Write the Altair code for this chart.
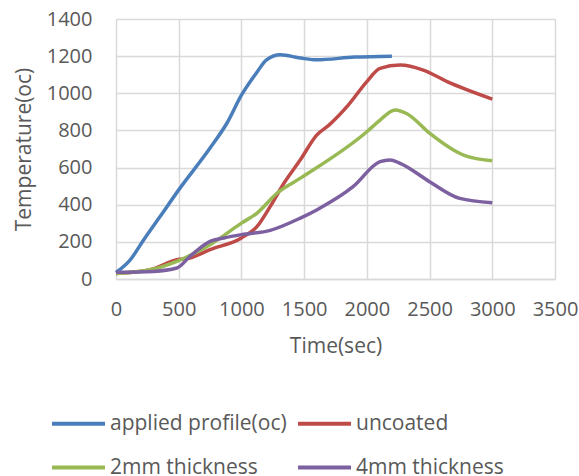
import altair as alt
import pandas as pd

series_names = ["applied profile(oc)", "uncoated", "2mm thickness", "4mm thickness"]
colors = ["#4A7EBB", "#BE4B48", "#98B954", "#7D60A0"]

applied_t = [0, 110, 220, 350, 500, 750, 885, 1000, 1125, 1200, 1310, 1470, 1600, 1900, 2200]
applied_v = [35, 100, 210, 335, 480, 705, 840, 990, 1115, 1180, 1207, 1190, 1180, 1195, 1200]

uncoated_t = [0, 270, 485, 590, 750, 1000, 1125, 1230, 1340, 1470, 1600, 1700, 1850, 2000, 2105, 2265, 2450, 2640, 3000]
uncoated_v = [30, 50, 104, 113, 158, 221, 283, 391, 517, 642, 775, 830, 935, 1063, 1134, 1152, 1125, 1063, 969]

mm2_t = [0, 300, 485, 750, 1000, 1125, 1285, 1470, 2000, 2105, 2225, 2320, 2500, 2690, 2800, 3000]
mm2_v = [30, 54, 95, 185, 301, 355, 463, 543, 793, 856, 910, 890, 785, 695, 660, 637]

mm4_t = [0, 300, 485, 590, 750, 860, 1000, 1230, 1470, 1600, 1890, 2105, 2185, 2265, 2500, 2740, 3000]
mm4_v = [36, 41, 59, 122, 203, 221, 239, 262, 328, 372, 497, 632, 641, 623, 524, 434, 411]

x_ticks = [0, 500, 1000, 1500, 2000, 2500, 3000, 3500]
y_ticks = [0, 200, 400, 600, 800, 1000, 1200, 1400]

rows = []
for name, ts, vs in zip(series_names,
                        [applied_t, uncoated_t, mm2_t, mm4_t],
                        [applied_v, uncoated_v, mm2_v, mm4_v]):
    for t, v in zip(ts, vs):
        rows.append({"series": name, "time": t, "temp": v})
df = pd.DataFrame(rows)

FONT = "Open Sans"
GREY = "#595959"

chart = alt.Chart(df).mark_line(
    interpolate="monotone", strokeWidth=3.5
).encode(
    x=alt.X("time:Q", scale=alt.Scale(domain=[0, 3500], nice=False),
            axis=alt.Axis(values=x_ticks, title="Time(sec)", grid=True,
                          ticks=False, tickSize=0, labelPadding=20,
                          labelOverlap=False, labelFlush=False,
                          titlePadding=16, domainColor="#D9D9D9",
                          domainWidth=1.5, format="d")),
    y=alt.Y("temp:Q", scale=alt.Scale(domain=[0, 1400], nice=False),
            axis=alt.Axis(values=y_ticks, title="Temperature(oc)", grid=True,
                          ticks=False, tickSize=0, labelPadding=24,
                          labelOverlap=False, labelFlush=False,
                          titlePadding=12, domain=False, format="d")),
    color=alt.Color("series:N",
                    scale=alt.Scale(domain=series_names, range=colors),
                    sort=series_names,
                    legend=alt.Legend(title=None, orient="none",
                                      direction="horizontal",
                                      legendX=-66, legendY=376,
                                      columns=2, symbolType="stroke",
                                      symbolSize=2809, symbolStrokeWidth=4,
                                      labelFontSize=21, labelFont=FONT,
                                      labelColor=GREY, labelOffset=3,
                                      columnPadding=3, rowPadding=5,
                                      labelLimit=400)),
).properties(
    width=439, height=260,
    padding={"left": 116, "top": 19, "right": 24, "bottom": 197},
    autosize=alt.AutoSizeParams(type="none"),
    background="white",
).configure_axis(
    labelFont=FONT, labelFontSize=20, labelColor=GREY,
    titleFont=FONT, titleFontSize=21, titleColor=GREY, titleFontWeight="normal",
    gridColor="#D9D9D9", gridWidth=1.5,
).configure_view(
    stroke=None
)

chart.save("out.html", embed_options={"renderer": "svg", "actions": False})
